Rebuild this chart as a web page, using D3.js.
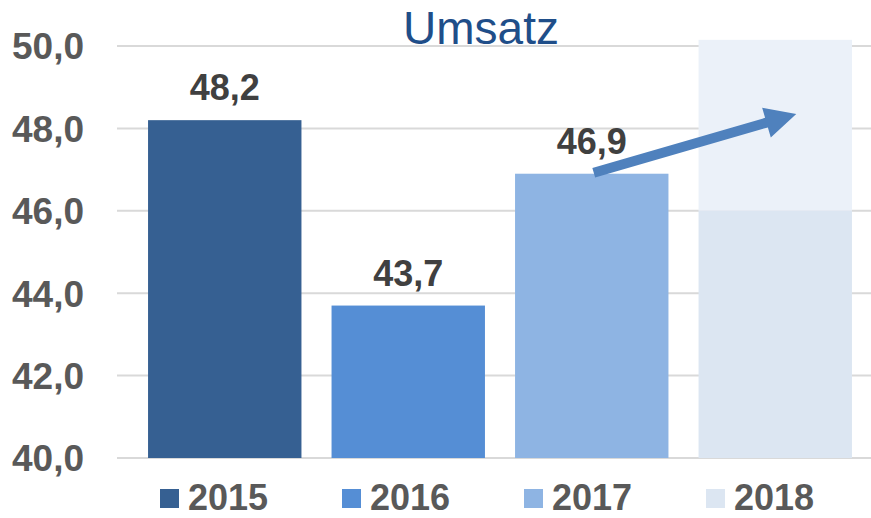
<!DOCTYPE html>
<html>
<head>
<meta charset="utf-8">
<script src="https://cdn.jsdelivr.net/npm/d3@7/dist/d3.min.js"></script>
<style>
  html, body { margin: 0; padding: 0; background: #fff; }
  svg { display: block; font-family: "Liberation Sans", Arial, sans-serif; }
</style>
</head>
<body>
<svg id="chart" width="871" height="518"></svg>
<script>
// ---- data ----
const categories = ["2015", "2016", "2017", "2018"];
const values = [48.2, 43.7, 46.9, 46.0];
const labels = ["48,2", "43,7", "46,9", ""];
const forecastTop = 50.15;          // light extension of the 2018 bar
const colors = ["#366092", "#558ed5", "#8eb4e3", "#dce6f2"];
const forecastColor = "#ebf1f9";
const yTicks = [40, 42, 44, 46, 48, 50];
const yTickLabels = ["40,0", "42,0", "44,0", "46,0", "48,0", "50,0"];
const title = "Umsatz";
const arrowFrom = { cat: "2017", value: 46.9 };
const arrowTo = { cat: "2018", value: 48.35 };

// ---- chart ----
const svg = d3.select("#chart");
const y = d3.scaleLinear().domain([40, 50]).range([458, 46]);
const x = d3.scaleBand().domain(categories).range([133, 867])
  .paddingInner(0.164).paddingOuter(0.082);
const bw = x.bandwidth();

// gridlines
svg.append("g").selectAll("line").data(yTicks).join("line")
  .attr("x1", 117).attr("x2", 871)
  .attr("y1", d => y(d)).attr("y2", d => y(d))
  .attr("stroke", "#d9d9d9").attr("stroke-width", 2);

// y labels
svg.append("g").selectAll("text").data(yTicks).join("text")
  .attr("x", 84).attr("y", d => y(d)).attr("dy", "0.36em")
  .attr("text-anchor", "end")
  .attr("font-size", 37).attr("font-weight", "bold").attr("fill", "#595959")
  .text((d, i) => yTickLabels[i]);

// forecast extension of 2018
svg.append("rect")
  .attr("x", x("2018")).attr("width", bw)
  .attr("y", y(forecastTop)).attr("height", y(values[3]) - y(forecastTop))
  .attr("fill", forecastColor);

// bars
svg.append("g").selectAll("rect").data(categories).join("rect")
  .attr("x", d => x(d)).attr("width", bw)
  .attr("y", (d, i) => y(values[i]))
  .attr("height", (d, i) => y(40) - y(values[i]))
  .attr("fill", (d, i) => colors[i]);

// title
svg.append("text").attr("x", 481).attr("y", 44)
  .attr("text-anchor", "middle").attr("font-size", 46)
  .attr("fill", "#1f4e89").text(title);

// data labels
svg.append("g").selectAll("text").data(categories).join("text")
  .attr("x", d => x(d) + bw / 2)
  .attr("y", (d, i) => y(values[i]) - 20)
  .attr("text-anchor", "middle")
  .attr("font-size", 36).attr("font-weight", "bold").attr("fill", "#404040")
  .text((d, i) => labels[i]);

// arrow
(function () {
  const x0 = x(arrowFrom.cat) + bw / 2 + 2, y0 = y(arrowFrom.value) - 1;
  const x1 = x(arrowTo.cat) + bw / 2 + 21, y1 = y(arrowTo.value);
  const dx = x1 - x0, dy = y1 - y0, L = Math.hypot(dx, dy);
  const ux = dx / L, uy = dy / L, px = -uy, py = ux;
  const sw = 5, hw = 15.5, hl = 31;
  const bx = x1 - ux * hl, by = y1 - uy * hl;
  const pts = [
    [x0 + px * sw, y0 + py * sw],
    [bx + px * sw, by + py * sw],
    [bx + px * hw, by + py * hw],
    [x1, y1],
    [bx - px * hw, by - py * hw],
    [bx - px * sw, by - py * sw],
    [x0 - px * sw, y0 - py * sw]
  ];
  svg.append("path").attr("d", d3.line()(pts) + "Z").attr("fill", "#4f81bd");
})();

// legend
const leg = svg.append("g").selectAll("g").data(categories).join("g")
  .attr("transform", (d, i) => `translate(${160 + i * 182},0)`);
leg.append("rect").attr("x", 0).attr("y", 489).attr("width", 19).attr("height", 19)
  .attr("fill", (d, i) => colors[i]);
leg.append("text").attr("x", 28).attr("y", 510)
  .attr("font-size", 36).attr("font-weight", "bold").attr("fill", "#595959")
  .text(d => d);
</script>
</body>
</html>
